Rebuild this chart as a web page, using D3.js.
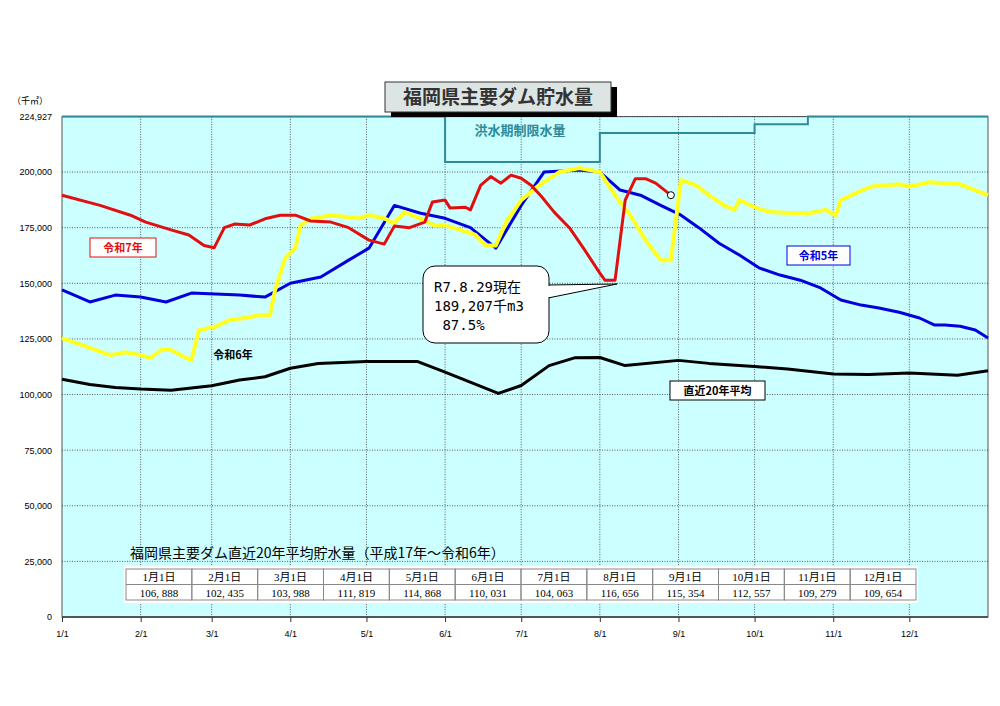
<!DOCTYPE html>
<html><head><meta charset="utf-8">
<script src="https://cdn.jsdelivr.net/npm/d3@7"></script>
<style>body{margin:0;background:#fff}</style>
</head><body>
<svg id="c" width="1000" height="706"></svg>
<script>
// x pixel -> day of year, y values in 千m3
var monthTicks=["1/1","2/1","3/1","4/1","5/1","6/1","7/1","8/1","9/1","10/1","11/1","12/1"];
var monthDays=[0,31,59,90,120,151,181,212,243,273,304,334];
var yTicks=[0,25000,50000,75000,100000,125000,150000,175000,200000,224927];

var r7=[[0,189600],[15,185000],[27,180600],[33,177500],[43,174000],[50,171700],[56,167000],[60,166000],[64,175000],[68,176600],[74,176200],[80,179000],[86,180600],[92,180600],[98,178000],[106,177500],[113,175000],[121,169400],[127,167600],[131,175700],[137,175000],[143,177500],[146,186500],[151,187400],[153,183800],[159,184200],[161,183000],[165,194000],[169,198000],[173,195000],[177,198600],[181,197200],[185,194000],[189,189000],[194,182000],[200,175000],[206,165000],[212,154600],[214,151400],[218,151400],[222,187400],[226,197000],[230,197000],[234,195000],[240,189600]];
var r6=[[0,125400],[11,121000],[19,117700],[25,119000],[31,117700],[35,116400],[39,120000],[43,120000],[49,116400],[51,115500],[54,129000],[60,130300],[66,133500],[72,134400],[78,135700],[82,135700],[84,147000],[88,161300],[92,165800],[94,176000],[98,179000],[106,180600],[117,179200],[121,180600],[127,179200],[131,177000],[135,182000],[141,179200],[147,176000],[151,176000],[157,174000],[163,171700],[167,167000],[171,167000],[175,177500],[181,187400],[188,194000],[196,200000],[204,201800],[212,200000],[218,189600],[224,180600],[230,169400],[236,160400],[240,160400],[244,196400],[250,194000],[255,189600],[261,185000],[265,183000],[267,187400],[273,184200],[279,182000],[287,181600],[295,181600],[301,183000],[305,180600],[307,187400],[311,189600],[319,193500],[330,194500],[334,193500],[342,195400],[354,194500],[365,189600]];
var r5=[[0,147000],[11,141600],[21,144700],[31,143800],[41,141600],[51,145600],[70,144700],[80,143800],[90,150000],[102,152800],[113,160400],[121,165800],[131,185000],[141,181600],[151,179200],[161,175000],[171,165800],[181,185000],[190,200000],[204,200900],[212,200000],[220,191900],[228,189600],[236,185000],[244,180600],[251,175000],[259,168000],[267,162700],[275,156800],[283,153700],[291,151400],[299,147900],[307,142500],[315,140200],[322,138900],[330,137000],[338,134400],[344,131200],[348,131200],[354,130700],[360,129000],[365,125400]];
var avg=[[0,106888],[11,104500],[21,103200],[31,102435],[43,101900],[59,103988],[70,106500],[80,108000],[90,111819],[101,113900],[120,114868],[140,114900],[151,110031],[172,100500],[181,104063],[192,113000],[202,116500],[212,116656],[222,113000],[243,115354],[255,114000],[273,112557],[286,111500],[304,109279],[318,109000],[334,109654],[353,108700],[365,110700]];
var flood=[[0,224927],[151,224927],[151,204500],[212,204500],[212,217500],[273,217500],[273,221500],[294,221500],[294,224927],[365,224927]];
var tableDates=["1月1日","2月1日","3月1日","4月1日","5月1日","6月1日","7月1日","8月1日","9月1日","10月1日","11月1日","12月1日"];
var tableVals=["106, 888","102, 435","103, 988","111, 819","114, 868","110, 031","104, 063","116, 656","115, 354","112, 557","109, 279","109, 654"];

var svg=d3.select("#c");
var L=62,R=988,T=116.6,B=617;
var x=d3.scaleLinear().domain([0,365]).range([L,R]);
var y=d3.scaleLinear().domain([0,224927]).range([B,T]);
var jp="'Noto Sans CJK JP',sans-serif";

svg.append("rect").attr("x",L).attr("y",T).attr("width",R-L).attr("height",B-T).attr("fill","#ccffff").attr("stroke","#555");
svg.append("g").selectAll("line").data(yTicks.slice(1)).enter().append("line")
  .attr("x1",L).attr("x2",R).attr("y1",d=>y(d)).attr("y2",d=>y(d))
  .attr("stroke","#333").attr("stroke-dasharray","1,1.5").attr("stroke-width",0.8);
svg.append("g").selectAll("line").data(monthDays.slice(1)).enter().append("line")
  .attr("x1",d=>x(d)).attr("x2",d=>x(d)).attr("y1",T).attr("y2",B)
  .attr("stroke","#333").attr("stroke-dasharray","1,1.5").attr("stroke-width",0.8);
svg.append("line").attr("x1",L).attr("x2",R).attr("y1",B).attr("y2",B).attr("stroke","#555").attr("stroke-width",2);

var ya=svg.append("g").attr("transform","translate("+L+",0)")
  .call(d3.axisLeft(y).tickValues(yTicks).tickSize(0).tickPadding(10).tickFormat(d3.format(",")));
ya.select(".domain").remove();
ya.selectAll("text").attr("font-family","'Liberation Sans',Arial,sans-serif").attr("font-size",9);
var xa=svg.append("g").attr("transform","translate(0,"+B+")")
  .call(d3.axisBottom(x).tickValues(monthDays).tickSize(5).tickFormat((d,i)=>monthTicks[i]));
xa.select(".domain").remove();
xa.selectAll("line").attr("stroke","#333");
xa.selectAll("text").attr("font-family","'Liberation Sans',Arial,sans-serif").attr("font-size",9).attr("dy","1.3em");
svg.append("text").attr("x",12).attr("y",104).attr("font-family",jp).attr("font-size",9).text("（千㎥）");

var line=d3.line().x(d=>x(d[0])).y(d=>y(d[1]));
svg.append("path").datum(flood).attr("d",line).attr("fill","none").attr("stroke","#2e8a9a").attr("stroke-width",2);
svg.append("text").attr("x",520).attr("y",135).attr("text-anchor","middle").attr("font-family",jp).attr("font-size",13).attr("font-weight","bold").attr("fill","#2e8a9a").text("洪水期制限水量");
[[avg,"#000",3],[r5,"#0000dd",3],[r6,"#ffff22",4],[r7,"#e01010",3]].forEach(function(s){
  svg.append("path").datum(s[0]).attr("d",line).attr("fill","none").attr("stroke",s[1]).attr("stroke-width",s[2]).attr("stroke-linejoin","round");
});
var last=r7[r7.length-1];
svg.append("circle").attr("cx",x(last[0])).attr("cy",y(last[1])).attr("r",3.5).attr("fill","#fff").attr("stroke","#000");

// title
svg.append("rect").attr("x",391).attr("y",87).attr("width",226).attr("height",30).attr("fill","#000");
svg.append("rect").attr("x",385).attr("y",82).attr("width",226).attr("height",30).attr("fill","#dde4e4").attr("stroke","#333");
svg.append("text").attr("x",498).attr("y",104).attr("text-anchor","middle").attr("font-family",jp).attr("font-size",19).attr("font-weight","bold").attr("fill","#333").text("福岡県主要ダム貯水量");

function tag(tx,ty,w,txt,col,border){
  if(border) svg.append("rect").attr("x",tx).attr("y",ty).attr("width",w).attr("height",19).attr("fill","#fff").attr("stroke",col);
  svg.append("text").attr("x",tx+w/2).attr("y",ty+14).attr("text-anchor","middle").attr("font-family",jp).attr("font-size",11).attr("font-weight","bold").attr("fill",border?col:"#000").text(txt);
}
tag(90,238,66,"令和7年","#e01010",true);
tag(200,345,66,"令和6年","#000",false);
tag(787,246,63,"令和5年","#0000dd",true);
tag(670,381,95,"直近20年平均","#000",true);

// callout
svg.append("path").attr("d","M548,285 L617,284 L548,298").attr("fill","#fff").attr("stroke","#000");
svg.append("rect").attr("x",423).attr("y",266).attr("width",126).attr("height",77).attr("rx",12).attr("fill","#fff").attr("stroke","#000");
svg.append("rect").attr("x",546).attr("y",286).attr("width",4).attr("height",11).attr("fill","#fff");
["R7.8.29現在","189,207千m3"," 87.5%"].forEach(function(t,i){
  svg.append("text").attr("x",434).attr("y",292+i*19).attr("font-family","'DejaVu Sans Mono','Noto Sans CJK JP',monospace").attr("font-size",14).attr("xml:space","preserve").text(t);
});

// table
svg.append("text").attr("x",130).attr("y",558).attr("font-family",jp).attr("font-size",14).text("福岡県主要ダム直近20年平均貯水量（平成17年～令和6年）");
var tx=d3.scaleBand().domain(d3.range(12)).range([126,916]);
var tg=svg.append("g");
tg.append("rect").attr("x",124).attr("y",566).attr("width",794).attr("height",37).attr("fill","#fff");
tg.selectAll(".c").data(d3.range(12)).enter().append("rect")
  .attr("x",d=>tx(d)).attr("y",569).attr("width",tx.bandwidth()).attr("height",31).attr("fill","none").attr("stroke","#888");
tg.append("line").attr("x1",126).attr("x2",916).attr("y1",584.5).attr("y2",584.5).attr("stroke","#888");
var serif="'Liberation Serif','Noto Sans CJK JP',serif";
tg.selectAll(".d").data(tableDates).enter().append("text").attr("x",(d,i)=>tx(i)+tx.bandwidth()/2).attr("y",581).attr("text-anchor","middle").attr("font-family",serif).attr("font-size",11).text(d=>d);
tg.selectAll(".v").data(tableVals).enter().append("text").attr("x",(d,i)=>tx(i)+tx.bandwidth()/2).attr("y",597).attr("text-anchor","middle").attr("font-family",serif).attr("font-size",11).text(d=>d);
</script>
</body></html>
